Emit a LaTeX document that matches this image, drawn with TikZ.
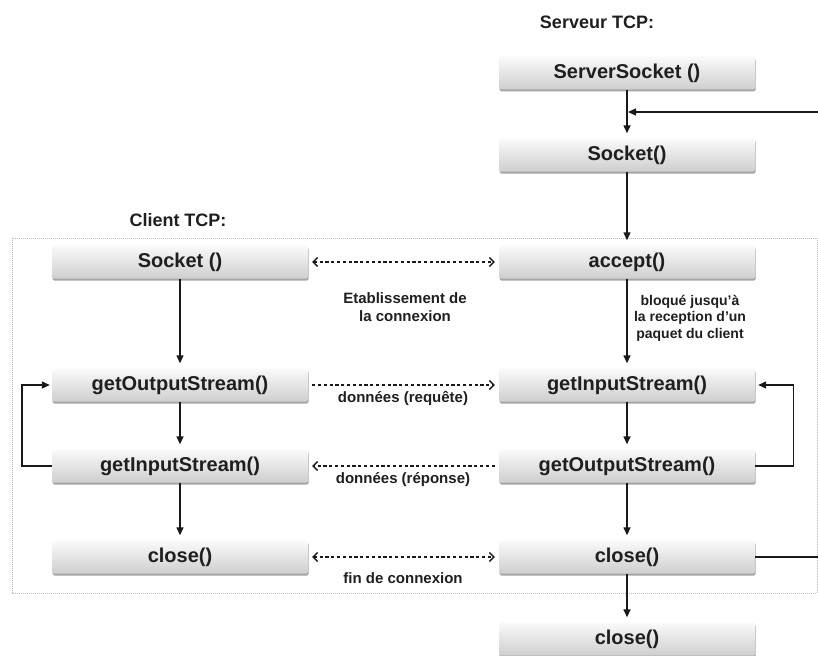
\documentclass[tikz,border=0pt]{standalone}
\usepackage{fontspec}
\setmainfont{Liberation Sans}
\usetikzlibrary{arrows.meta,shadows}

\newcommand\boxfont{\fontsize{20}{24}\selectfont\bfseries}
\newcommand\notefont{\fontsize{15}{18}\selectfont\bfseries}
\newcommand\smallnotefont{\fontsize{14}{16.5}\selectfont\bfseries}
\newcommand\titlefont{\fontsize{18}{22}\selectfont\bfseries}

\tikzset{
  callbox/.style={minimum width=256pt, minimum height=33pt, inner sep=0pt,
    rounded corners=1.5pt, top color=gray!4, bottom color=gray!38,
    font=\boxfont, text=black!88,
    drop shadow={shadow xshift=0.6pt, shadow yshift=-2pt, opacity=0.35, fill=black}},
  flow/.style={-{Triangle[length=8pt,width=7pt]}, line width=1.4pt, black!90},
  plainline/.style={line width=1.4pt, black!90},
  exchange/.style={line width=1.2pt, black!90, dash pattern=on 3.2pt off 2.6pt,
    shorten >=4pt, shorten <=4pt},
  barb/.tip={Straight Barb[length=4.5pt,width=9pt,line width=1.3pt]},
  note/.style={align=center, font=\notefont, text=black!88},
  smallnote/.style={align=center, font=\smallnotefont, text=black!88},
  title/.style={font=\titlefont, text=black!88}
}

\begin{document}
\begin{tikzpicture}[x=1pt, y=-1pt]
  \fill[white] (0,0) rectangle (818,655);
  \useasboundingbox (0,0) rectangle (818,655);

  % frame around the client/server exchange
  \draw[gray!55, line width=0.6pt, dash pattern=on 1pt off 1pt] (12,238) rectangle (817,593);

  % titles
  \node[title] (srvtitle) at (597,22) {Serveur TCP:};
  \node[title] (clititle) at (178,220) {Client TCP:};

  % server column
  \node[callbox] (ssock)   at (627,73)  {ServerSocket ()};
  \node[callbox] (sconn)   at (627,155) {Socket()};
  \node[callbox] (accept)  at (627,262) {accept()};
  \node[callbox] (sin)     at (627,385) {getInputStream()};
  \node[callbox] (sout)    at (627,466) {getOutputStream()};
  \node[callbox] (sclose)  at (627,557) {close()};
  \node[callbox] (sclose2) at (627,639) {close()};

  % client column
  \node[callbox] (csock)  at (180,262) {Socket ()};
  \node[callbox] (cout)   at (180,385) {getOutputStream()};
  \node[callbox] (cin)    at (180,466) {getInputStream()};
  \node[callbox] (cclose) at (180,557) {close()};

  % loose ends of the server loop
  \coordinate (loopin)  at (818,112);
  \coordinate (loopout) at (818,557);

  % server flow
  \draw[flow, shorten >=5pt] (ssock) -- (sconn);
  \draw[flow, shorten >=1pt] (loopin) -- (ssock.south |- loopin);
  \draw[flow, shorten >=5pt] (sconn) -- (accept);
  \draw[flow, shorten >=5pt] (accept) -- (sin);
  \draw[flow, shorten >=5pt] (sin) -- (sout);
  \draw[flow, shorten >=5pt] (sout) -- (sclose);
  \draw[flow, shorten >=5pt] (sclose) -- (sclose2);
  \draw[plainline] (sclose.east) -- (loopout);
  \draw[flow, shorten >=3pt] (sout.east) -- ++(38,0) |- (sin.east);

  % client flow
  \draw[flow, shorten >=5pt] (csock) -- (cout);
  \draw[flow, shorten >=5pt] (cout) -- (cin);
  \draw[flow, shorten >=5pt] (cin) -- (cclose);
  \draw[flow, shorten >=2pt] (cin.west) -- ++(-30,0) |- (cout.west);

  % exchanges between client and server
  \draw[exchange, barb-barb] (csock.east) -- (accept.west);
  \draw[exchange, -barb] (cout.east) -- (sin.west);
  \draw[exchange, -barb] (sout.west) -- (cin.east);
  \draw[exchange, barb-barb] (cclose.east) -- (sclose.west);

  % notes
  \node[note] (estab) at (405,307) {Etablissement de\\la connexion};
  \node[smallnote] (block) at (690,318) {bloqué jusqu'à\\la reception d'un\\paquet du client};
  \node[note] (req) at (403,398) {données (requête)};
  \node[note] (rep) at (403,480) {données (réponse)};
  \node[note] (fin) at (403,578) {fin de connexion};
\end{tikzpicture}
\end{document}
